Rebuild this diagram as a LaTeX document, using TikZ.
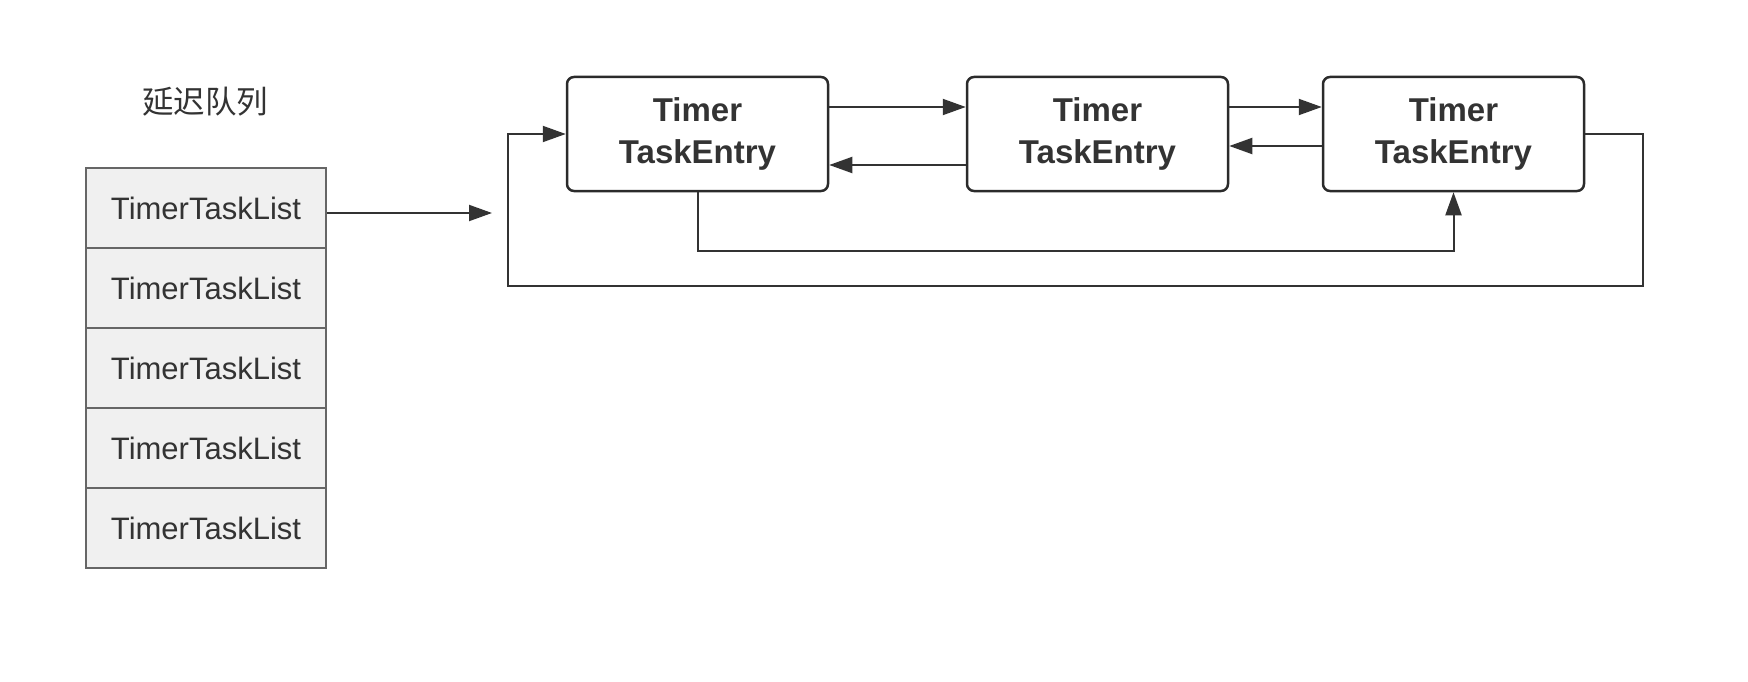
\documentclass[tikz,border=0pt]{standalone}
\usepackage{fontspec}
\setmainfont{Liberation Sans}
\newfontfamily\cjk{Noto Sans CJK SC}
\usetikzlibrary{arrows.meta}
\definecolor{ink}{HTML}{333333}
\definecolor{cellfill}{HTML}{F0F0F0}
\definecolor{cellline}{HTML}{666666}
\begin{document}
\begin{tikzpicture}[x=1pt,y=-1pt,
  cell/.style={draw=cellline,fill=cellfill,line width=1.8pt,minimum width=240pt,minimum height=80pt,inner sep=0pt,text=ink,font=\fontsize{31}{36}\selectfont},
  entry/.style={draw=ink!85!black,line width=2.5pt,rounded corners=7pt,minimum width=261pt,minimum height=114pt,inner sep=0pt,align=center,text=ink,font=\bfseries\fontsize{33}{42}\selectfont},
  arr/.style={draw=ink,line width=2pt,-{Triangle[length=23pt,width=16pt]}},
  ln/.style={draw=ink,line width=2pt}]
\useasboundingbox (0,0) rectangle (1748,682);
\node[text=ink,font=\cjk\fontsize{31.5}{36}\selectfont] (title) at (205,102) {延迟队列};
\node[cell] (c1) at (206,208) {TimerTaskList};
\node[cell] (c2) at (206,288) {TimerTaskList};
\node[cell] (c3) at (206,368) {TimerTaskList};
\node[cell] (c4) at (206,448) {TimerTaskList};
\node[cell] (c5) at (206,528) {TimerTaskList};
\node[entry] (e1) at (697.5,134) {Timer\\TaskEntry};
\node[entry] (e2) at (1097.5,134) {Timer\\TaskEntry};
\node[entry] (e3) at (1453.5,134) {Timer\\TaskEntry};
\coordinate (ltip) at (492,213);
\coordinate (r1) at (1643,286);
\coordinate (l1) at (508,286);
\draw[arr] ([yshift=-5pt]c1.east) -- (ltip);
\draw[arr] ([yshift=27pt]e1.east) -- ([yshift=27pt]e2.west);
\draw[arr] ([yshift=-31pt]e2.west) -- ([yshift=-31pt]e1.east);
\draw[arr] ([yshift=27pt]e2.east) -- ([yshift=27pt]e3.west);
\draw[arr] ([yshift=-12pt]e3.west) -- ([yshift=-12pt]e2.east);
\draw[arr] (e1.south) -- ++(0,59) -| (e3.south);
\draw[arr] (e3.east) -| (r1) -- (l1) |- (e1.west);
\end{tikzpicture}
\end{document}
